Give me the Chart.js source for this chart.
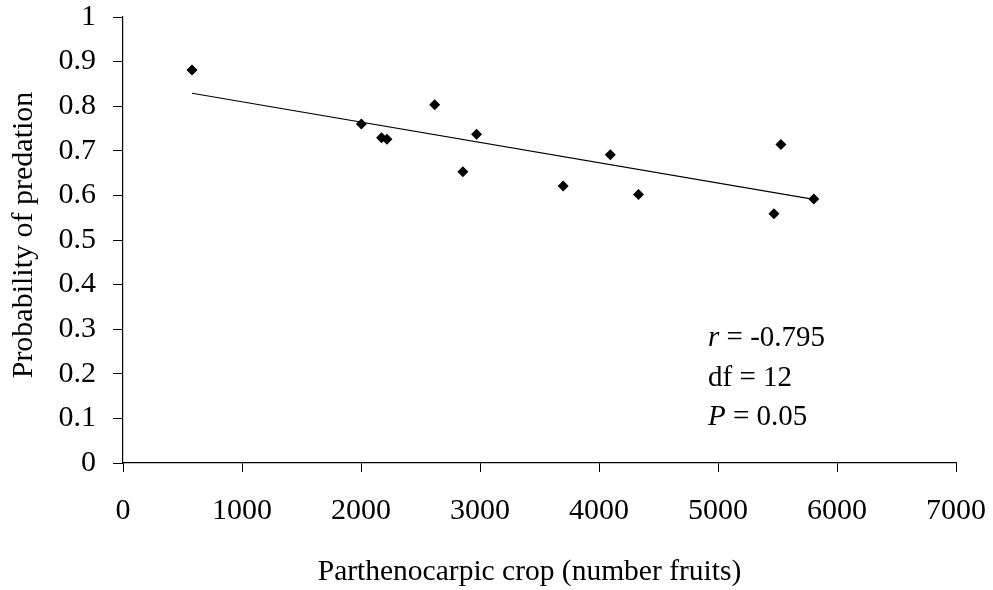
<!DOCTYPE html>
<html>
<head>
<meta charset="utf-8">
<script src="https://cdn.jsdelivr.net/npm/chart.js@4"></script>
<style>
html,body{margin:0;padding:0;background:#fff;}
#wrap{width:993px;height:590px;}
</style>
</head>
<body>
<div id="wrap"><canvas id="c" width="993" height="590"></canvas></div>
<script>
// Data
const cropFruits = [580, 2003, 2173, 2218, 2619, 2856, 2971, 3699, 4095, 4332, 5470, 5529, 5805];
const predation  = [0.881, 0.760, 0.729, 0.726, 0.803, 0.653, 0.737, 0.621, 0.691, 0.602, 0.559, 0.714, 0.592];
const trendX = [580, 5805];
const trendY = [0.829, 0.591];
const xTickValues = [0, 1000, 2000, 3000, 4000, 5000, 6000, 7000];
const yTickValues = [0, 0.1, 0.2, 0.3, 0.4, 0.5, 0.6, 0.7, 0.8, 0.9, 1];
const xTitle = 'Parthenocarpic crop (number fruits)';
const yTitle = 'Probability of predation';
const statLines = [['r', ' = -0.795'], ['', 'df = 12'], ['P', ' = 0.05']];

const FONT = 'Liberation Serif, Times New Roman, serif';

const annotPlugin = {
  id: 'annot',
  afterDraw(chart) {
    const ctx = chart.ctx;
    ctx.save();
    ctx.fillStyle = '#000';
    // axis titles
    ctx.font = '29.5px ' + FONT;
    ctx.textAlign = 'center';
    ctx.textBaseline = 'alphabetic';
    ctx.fillText(xTitle, 529.5, 580);
    ctx.save();
    ctx.translate(32, 235);
    ctx.rotate(-Math.PI / 2);
    ctx.font = '30px ' + FONT;
    ctx.fillText(yTitle, 0, 0);
    ctx.restore();
    // statistics
    ctx.textAlign = 'left';
    ctx.textBaseline = 'middle';
    const ys = [338, 378, 417];
    statLines.forEach((ln, i) => {
      let x = 708;
      if (ln[0]) {
        ctx.font = 'italic 29px ' + FONT;
        ctx.fillText(ln[0], x, ys[i]);
        x += ctx.measureText(ln[0]).width;
      }
      ctx.font = '29px ' + FONT;
      ctx.fillText(ln[1], x, ys[i]);
    });
    ctx.restore();
  }
};

function noPad(s) { s.paddingTop = 0; s.paddingBottom = 0; s.paddingLeft = 0; s.paddingRight = 0; }

new Chart(document.getElementById('c'), {
  type: 'scatter',
  data: {
    datasets: [
      {
        type: 'line',
        data: trendX.map((x, i) => ({x: x, y: trendY[i]})),
        borderColor: '#000',
        borderWidth: 1.2,
        pointRadius: 0,
        fill: false
      },
      {
        data: cropFruits.map((x, i) => ({x: x, y: predation[i]})),
        pointStyle: 'rectRot',
        pointRadius: 5.5,
        pointHoverRadius: 5.5,
        backgroundColor: '#000',
        borderColor: '#000',
        borderWidth: 0
      }
    ]
  },
  plugins: [annotPlugin],
  options: {
    responsive: false,
    animation: false,
    events: [],
    layout: {padding: {top: 17, right: 37, left: 0, bottom: 0}},
    plugins: {legend: {display: false}, tooltip: {enabled: false}},
    scales: {
      x: {
        type: 'linear',
        min: 0, max: 7000,
        afterBuildTicks: s => { s.ticks = xTickValues.map(v => ({value: v})); },
        afterFit: s => { s.height = 127; noPad(s); },
        border: {display: true, color: '#000', width: 1.2},
        grid: {display: true, drawOnChartArea: false, drawTicks: true, tickLength: 9, color: '#000', lineWidth: 1},
        ticks: {color: '#000', font: {family: FONT, size: 30}, padding: 21, maxRotation: 0,
                callback: v => String(v)}
      },
      y: {
        type: 'linear',
        min: 0, max: 1,
        afterBuildTicks: s => { s.ticks = yTickValues.map(v => ({value: v})); },
        afterFit: s => { s.width = 123; noPad(s); },
        border: {display: true, color: '#000', width: 1.2},
        grid: {display: true, drawOnChartArea: false, drawTicks: true, tickLength: 10, color: '#000', lineWidth: 1},
        ticks: {color: '#000', font: {family: FONT, size: 30, lineHeight: 1}, padding: 17,
                callback: v => String(Math.round(v * 10) / 10)}
      }
    }
  }
});
</script>
</body>
</html>
